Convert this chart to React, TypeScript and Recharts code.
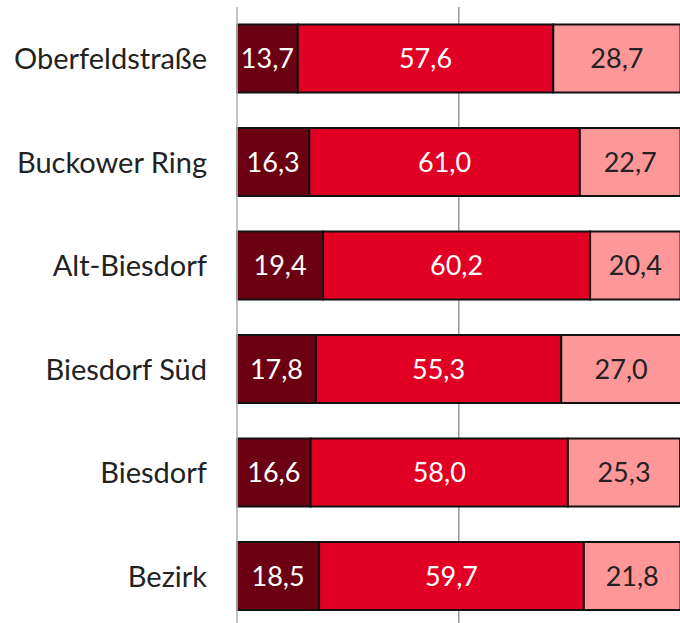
import React from "react";
import { BarChart, Bar, XAxis, YAxis, CartesianGrid, LabelList } from "recharts";

const categories = ["Oberfeldstraße", "Buckower Ring", "Alt-Biesdorf", "Biesdorf Süd", "Biesdorf", "Bezirk"];
const seriesA = [13.7, 16.3, 19.4, 17.8, 16.6, 18.5];
const seriesB = [57.6, 61.0, 60.2, 55.3, 58.0, 59.7];
const seriesC = [28.7, 22.7, 20.4, 27.0, 25.3, 21.8];
const gridTicks = [50];

const data = categories.map((name, i) => ({ name, a: seriesA[i], b: seriesB[i], c: seriesC[i] }));

const fmt = (v: any) => Number(v).toFixed(1).replace(".", ",");
const FONT = "Lato, 'Noto Sans', sans-serif";

export default function App() {
  return (
    <div style={{ position: "fixed", left: 0, top: 0, width: 680, height: 623, overflow: "hidden", background: "#fff" }}>
      <BarChart
        width={700}
        height={640}
        data={data}
        layout="vertical"
        margin={{ top: 7, right: 19, bottom: 12, left: 0 }}
        barCategoryGap="17%"
      >
        <CartesianGrid horizontal={false} vertical={true} stroke="#9a9a9a" strokeWidth={1.5} />
        <XAxis
          type="number"
          domain={[0, 100]}
          ticks={gridTicks}
          height={0}
          axisLine={false}
          tickLine={false}
          tick={{ fill: "#fff", fontSize: 10 }}
        />
        <YAxis
          type="category"
          dataKey="name"
          width={237}
          axisLine={{ stroke: "#c8c8c8", strokeWidth: 1.5 }}
          tickLine={false}
          tickMargin={24}
          tick={{ fill: "#222", fontSize: 29, fontFamily: FONT }}
        />
        <Bar dataKey="a" stackId="s" fill="#6a0011" stroke="#111" strokeWidth={2} isAnimationActive={false}>
          <LabelList dataKey="a" position="center" formatter={fmt} fill="#fff" fontSize={27} fontFamily={FONT} />
        </Bar>
        <Bar dataKey="b" stackId="s" fill="#e10024" stroke="#111" strokeWidth={2} isAnimationActive={false}>
          <LabelList dataKey="b" position="center" formatter={fmt} fill="#fff" fontSize={27} fontFamily={FONT} />
        </Bar>
        <Bar dataKey="c" stackId="s" fill="#fe9797" stroke="#111" strokeWidth={2} isAnimationActive={false}>
          <LabelList dataKey="c" position="center" formatter={fmt} fill="#222" fontSize={27} fontFamily={FONT} />
        </Bar>
      </BarChart>
    </div>
  );
}
